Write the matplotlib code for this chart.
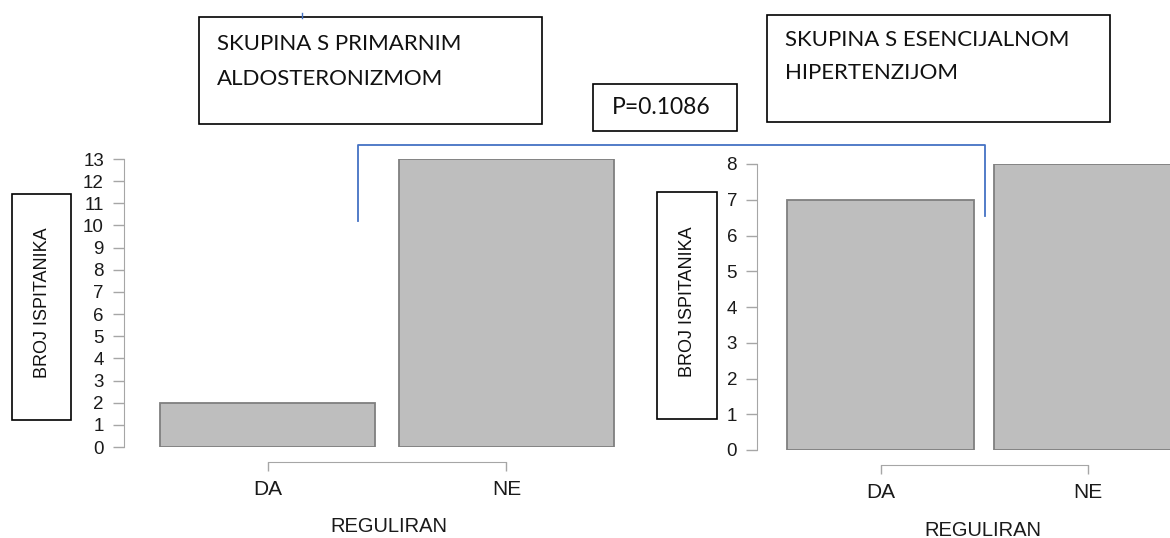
import matplotlib
matplotlib.use("Agg")
import matplotlib.pyplot as plt
from matplotlib.patches import Rectangle

categories = ['DA', 'NE']
primarni = [2, 13]       # skupina s primarnim aldosteronizmom
esencijalna = [7, 8]     # skupina s esencijalnom hipertenzijom
p_text = 'P=0.1086'
xlab = 'REGULIRAN'
ylab = 'BROJ ISPITANIKA'
title_left = ['SKUPINA S PRIMARNIM', 'ALDOSTERONIZMOM']
title_right = ['SKUPINA S ESENCIJALNOM', 'HIPERTENZIJOM']

W, H = 1170, 538
fig = plt.figure(figsize=(W / 100, H / 100), dpi=100)
px = 0.72  # points per pixel

def pos(x0, x1, ytop, ybot):
    return [x0 / W, (H - ybot) / H, (x1 - x0) / W, (ybot - ytop) / H]

def panel(ax, vals, ymax, spine_x, x0, unit, right_px, bar_w, drop):
    ax.bar(range(len(vals)), vals, width=bar_w, color='#bebebe',
           edgecolor='#7f7f7f', linewidth=1.3, align='center')
    ax.set_xlim((spine_x - x0) / unit, (right_px - x0) / unit)
    ax.set_ylim(0, ymax)
    for s in ['top', 'right']:
        ax.spines[s].set_visible(False)
    ax.spines['left'].set_bounds(0, ymax)
    ax.spines['left'].set_color('#a6a6a6')
    ax.spines['bottom'].set_bounds(0, len(vals) - 1)
    ax.spines['bottom'].set_color('#a6a6a6')
    ax.spines['bottom'].set_position(('outward', drop * px))
    ax.set_yticks(range(ymax + 1))
    ax.set_xticks(range(len(vals)))
    ax.set_xticklabels(categories)
    ax.tick_params(axis='y', length=11 * px, width=1, color='#a6a6a6',
                   pad=9 * px, labelsize=13.5, labelcolor='#1a1a1a')
    ax.tick_params(axis='x', length=9 * px, width=1, color='#a6a6a6',
                   pad=9 * px, labelsize=15, labelcolor='#1a1a1a')
    for t in ax.get_xticklabels() + ax.get_yticklabels():
        t.set_family('Liberation Sans')
    ax.patch.set_alpha(0)

ax1 = fig.add_axes(pos(124, 640, 159, 447))
panel(ax1, primarni, 13, 124, 267.5, 239, 640, 215 / 239, 15)

ax2 = fig.add_axes(pos(757, 1170, 164, 450))
panel(ax2, esencijalna, 8, 757, 880.5, 207, 1170, 187 / 207, 15)

# overlay in pixel coordinates for boxes, bracket and labels
ov = fig.add_axes([0, 0, 1, 1], zorder=5)
ov.set_xlim(0, W)
ov.set_ylim(H, 0)
ov.axis('off')
ov.patch.set_alpha(0)

def box(x0, y0, x1, y1):
    ov.add_patch(Rectangle((x0, y0), x1 - x0, y1 - y0, fill=False,
                           edgecolor='black', linewidth=1.2))

# y label boxes
box(12, 194, 71, 420)
ov.text(43, 303, ylab, rotation=90, ha='center', va='center',
        family='Liberation Sans', fontsize=13, color='#111111')
box(657, 192, 717, 419)
ov.text(688, 302, ylab, rotation=90, ha='center', va='center',
        family='Liberation Sans', fontsize=13, color='#111111')

# x labels
ov.text(389, 527, xlab, ha='center', va='center', family='Liberation Sans',
        fontsize=14.5, color='#1a1a1a')
ov.text(983, 530, xlab, ha='center', va='center', family='Liberation Sans',
        fontsize=14.5, color='#1a1a1a')

# title boxes
box(199, 17, 542, 124)
ov.text(217, 44, title_left[0], ha='left', va='center', family='Lato',
        fontsize=16, color='#111111')
ov.text(217, 79, title_left[1], ha='left', va='center', family='Lato',
        fontsize=16, color='#111111')
box(767, 15, 1110, 122)
ov.text(785, 40, title_right[0], ha='left', va='center', family='Lato',
        fontsize=16, color='#111111')
ov.text(785, 73, title_right[1], ha='left', va='center', family='Lato',
        fontsize=16, color='#111111')

# p-value box
box(593, 84, 737, 131)
ov.text(661, 107, p_text, ha='center', va='center', family='Lato',
        fontsize=16.5, color='#111111')

# bracket
ov.plot([358, 358, 985, 985], [221, 145, 145, 216], color='#4472c4',
        linewidth=1.3)
ov.plot([302, 302], [13, 18], color='#4472c4', linewidth=1)

fig.savefig('out.png', dpi=100)
